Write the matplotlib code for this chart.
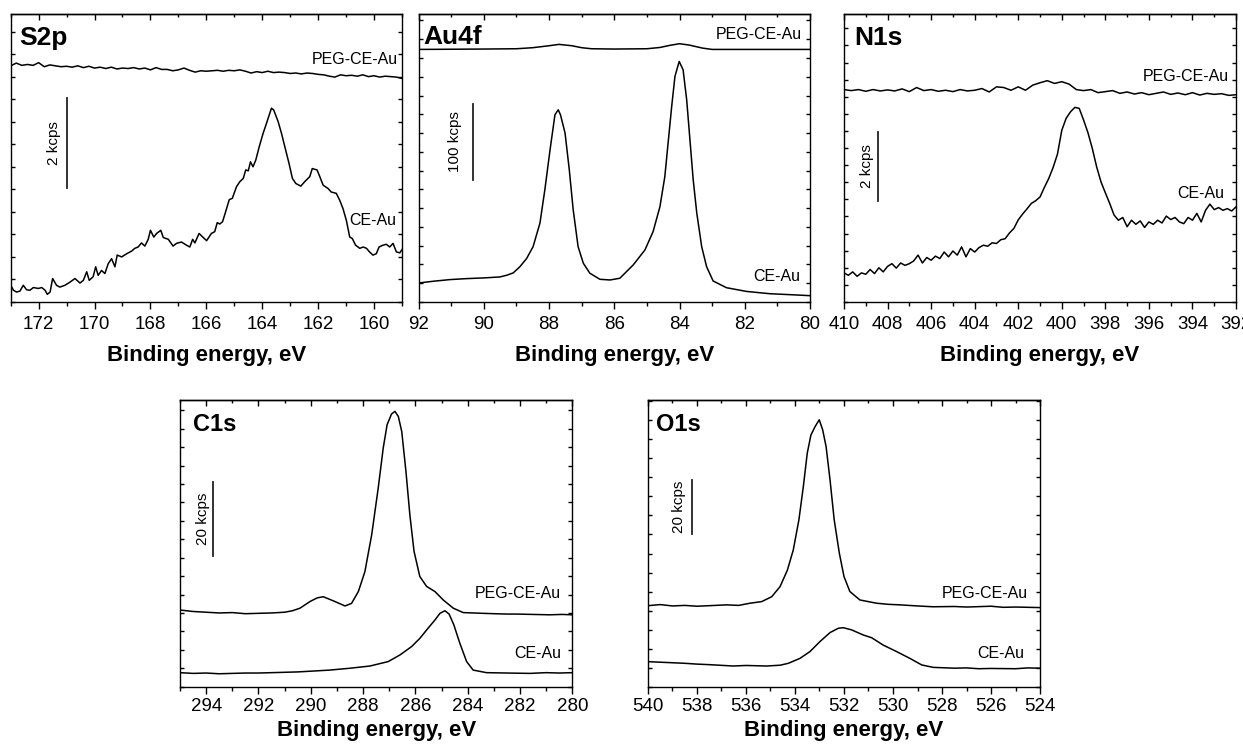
import matplotlib
matplotlib.use('Agg')
import matplotlib.pyplot as plt
from matplotlib.ticker import MultipleLocator
import numpy as np

plt.rcParams['font.family'] = ['Liberation Sans', 'DejaVu Sans']

# ---- S2p (kcps) ----
s2p_peg_ev = np.linspace(173.0, 159.0, 71)
s2p_peg_kcps = [5.24, 5.30, 5.25, 5.27, 5.25, 5.31, 5.22, 5.26, 5.24, 5.22,
                5.23, 5.21, 5.24, 5.20, 5.23, 5.19, 5.21, 5.18, 5.21, 5.17,
                5.19, 5.18, 5.20, 5.17, 5.19, 5.15, 5.20, 5.16, 5.16, 5.13,
                5.15, 5.19, 5.14, 5.10, 5.13, 5.12, 5.13, 5.14, 5.12, 5.14,
                5.13, 5.15, 5.12, 5.08, 5.11, 5.09, 5.12, 5.09, 5.10, 5.09,
                5.07, 5.08, 5.06, 5.08, 5.07, 5.05, 5.04, 5.01, 4.99, 5.04,
                5.02, 5.03, 5.01, 5.04, 5.00, 5.02, 4.99, 5.01, 5.00, 4.99,
                4.96]
s2p_ce_ev = [173.00, 172.90, 172.79, 172.67, 172.55, 172.43, 172.31, 172.19, 172.01, 171.89,
             171.77, 171.69, 171.59, 171.50, 171.36, 171.24, 171.06, 170.88, 170.70, 170.52,
             170.40, 170.28, 170.19, 170.05, 169.96, 169.87, 169.75, 169.63, 169.51, 169.39,
             169.27, 169.19, 169.03, 168.85, 168.67, 168.56, 168.44, 168.32, 168.20, 168.08,
             168.00, 167.88, 167.78, 167.63, 167.54, 167.36, 167.19, 167.07, 166.89, 166.71,
             166.59, 166.49, 166.41, 166.26, 166.11, 165.99, 165.82, 165.70, 165.61, 165.52,
             165.42, 165.33, 165.18, 165.07, 164.92, 164.80, 164.68, 164.59, 164.50, 164.42,
             164.33, 164.23, 164.11, 163.97, 163.85, 163.75, 163.67, 163.59, 163.43, 163.31,
             163.19, 163.04, 162.92, 162.80, 162.62, 162.48, 162.30, 162.21, 162.04, 161.94,
             161.82, 161.65, 161.53, 161.35, 161.23, 161.11, 160.99, 160.87, 160.78, 160.66,
             160.51, 160.39, 160.27, 160.16, 160.04, 159.92, 159.82, 159.68, 159.56, 159.44,
             159.32, 159.20, 159.08, 159.00]
s2p_ce_kcps = [0.37, 0.26, 0.22, 0.24, 0.37, 0.27, 0.26, 0.32, 0.30, 0.32,
               0.26, 0.17, 0.22, 0.52, 0.37, 0.33, 0.37, 0.44, 0.52, 0.42,
               0.48, 0.67, 0.48, 0.56, 0.78, 0.59, 0.70, 0.63, 0.85, 0.96,
               0.78, 1.04, 1.00, 1.07, 1.13, 1.19, 1.22, 1.31, 1.24, 1.39,
               1.59, 1.44, 1.52, 1.59, 1.43, 1.39, 1.24, 1.30, 1.33, 1.26,
               1.22, 1.39, 1.31, 1.52, 1.43, 1.36, 1.52, 1.56, 1.76, 1.73,
               1.78, 1.96, 2.27, 2.30, 2.56, 2.67, 2.74, 2.93, 2.91, 3.11,
               3.00, 3.15, 3.44, 3.74, 3.96, 4.15, 4.30, 4.26, 4.00, 3.74,
               3.44, 3.07, 2.74, 2.63, 2.57, 2.67, 2.78, 2.96, 2.93, 2.78,
               2.59, 2.52, 2.44, 2.41, 2.26, 2.07, 1.81, 1.44, 1.41, 1.26,
               1.19, 1.22, 1.19, 1.11, 1.04, 1.07, 1.22, 1.26, 1.28, 1.22,
               1.30, 1.11, 1.09, 1.16]

# ---- Au4f (kcps) ----
au_peg_ev = [92.0, 90.0, 89.0, 88.5, 88.0, 87.7, 87.3, 87.0, 86.7, 86.0,
             85.0, 84.6, 84.3, 84.0, 83.7, 83.3, 83.0, 82.0, 80.0]
au_peg_kcps = [336.4, 336.9, 337.3, 338.7, 341.3, 343.1, 341.3, 338.7, 337.3, 336.9,
               337.3, 339.0, 341.8, 344.0, 342.2, 338.2, 336.4, 336.4, 336.4]
au_ce_ev = [92.0, 91.55, 91.04, 90.53, 90.02, 89.51, 89.30, 89.10, 88.90, 88.69,
            88.49, 88.28, 88.13, 87.97, 87.82, 87.72, 87.65, 87.51, 87.38, 87.26,
            87.11, 86.95, 86.75, 86.44, 86.13, 85.83, 85.42, 85.06, 84.81, 84.60,
            84.45, 84.35, 84.24, 84.14, 84.01, 83.89, 83.78, 83.68, 83.58, 83.47,
            83.32, 83.17, 82.97, 82.56, 81.94, 81.23, 80.5, 80.0]
au_ce_kcps = [25.3, 27.6, 29.8, 31.1, 32.0, 33.3, 35.6, 38.7, 46.7, 57.8,
              73.7, 105, 149.3, 202.7, 249.3, 256, 249.3, 225, 176, 122.7,
              73.7, 51.6, 38.3, 30.2, 29.3, 31.6, 49.3, 69.3, 93.7, 127,
              167, 211.6, 260.4, 300.4, 320.4, 309.3, 269.3, 216, 162.7, 118.3,
              73.7, 47.1, 28, 19, 14, 11, 9.5, 8.4]

# ---- N1s (kcps) ----
n1s_peg_ev = np.linspace(410.0, 392.0, 55)
n1s_peg_kcps = [6.21, 6.18, 6.21, 6.16, 6.21, 6.17, 6.20, 6.17, 6.23, 6.15,
                6.27, 6.18, 6.21, 6.16, 6.19, 6.15, 6.21, 6.17, 6.19, 6.24,
                6.14, 6.29, 6.27, 6.19, 6.29, 6.19, 6.34, 6.41, 6.47, 6.39,
                6.44, 6.37, 6.21, 6.18, 6.21, 6.12, 6.15, 6.18, 6.10, 6.14,
                6.08, 6.12, 6.06, 6.10, 6.14, 6.07, 6.11, 6.06, 6.12, 6.05,
                6.10, 6.07, 6.09, 6.04, 6.06]
n1s_ce_ev = np.linspace(410.0, 392.0, 91)
n1s_ce_kcps = [0.85, 0.78, 0.88, 0.75, 0.85, 0.81, 0.95, 0.83, 1.00, 0.88,
               1.04, 1.12, 0.99, 1.14, 1.07, 1.12, 1.20, 1.37, 1.14, 1.30,
               1.22, 1.34, 1.27, 1.46, 1.32, 1.49, 1.37, 1.61, 1.32, 1.56,
               1.46, 1.59, 1.66, 1.63, 1.73, 1.71, 1.82, 1.85, 2.02, 2.15,
               2.40, 2.57, 2.72, 2.88, 2.96, 3.07, 3.35, 3.61, 3.93, 4.32,
               5.02, 5.37, 5.56, 5.69, 5.66, 5.32, 4.95, 4.49, 3.95, 3.51,
               3.19, 2.88, 2.54, 2.39, 2.47, 2.20, 2.39, 2.27, 2.37, 2.18,
               2.34, 2.27, 2.39, 2.31, 2.51, 2.41, 2.47, 2.34, 2.29, 2.47,
               2.39, 2.59, 2.34, 2.68, 2.86, 2.70, 2.76, 2.68, 2.73, 2.66,
               2.78]

# ---- C1s (kcps) ----
c1s_peg_ev = [295.0, 294.5, 294.0, 293.5, 293.0, 292.5, 292.0, 291.5, 291.0, 290.7,
              290.41, 290.03, 289.75, 289.52, 289.14, 288.69, 288.44, 288.18, 287.93, 287.67,
              287.42, 287.23, 287.08, 286.91, 286.78, 286.65, 286.52, 286.36, 286.21, 286.05,
              285.83, 285.57, 285.25, 284.93, 284.55, 284.17, 283.8, 283.41, 283.0, 282.5,
              282.13, 281.5, 280.86, 280.4, 280.0]
c1s_peg_kcps = [20.8, 20.4, 20.2, 20.0, 20.1, 19.8, 19.9, 20.0, 20.2, 20.6,
                21.3, 23.1, 24.1, 24.4, 23.3, 21.9, 22.6, 25.8, 31.2, 41.2,
                53.9, 64.7, 71.1, 74.0, 74.7, 73.3, 69.2, 58.4, 46.6, 36.7,
                29.9, 27.2, 25.8, 23.5, 21.3, 20.1, 20.0, 19.9, 19.8, 19.7,
                19.7, 19.6, 19.5, 19.6, 19.5]
c1s_ce_ev = [295.0, 294.5, 294.0, 293.5, 293.0, 292.5, 292.0, 291.5, 291.0, 290.5,
             290.0, 289.27, 288.50, 287.74, 287.04, 286.59, 286.14, 285.83, 285.51, 285.25,
             285.06, 284.87, 284.71, 284.53, 284.30, 284.04, 283.79, 283.28, 282.5, 281.62,
             281.0, 280.5, 280.0]
c1s_ce_kcps = [3.8, 3.6, 3.7, 3.5, 3.6, 3.7, 3.7, 3.8, 3.9, 4.0,
               4.2, 4.5, 5.0, 5.6, 6.8, 8.6, 10.9, 13.1, 15.9, 18.1,
               19.9, 20.6, 19.7, 16.8, 11.8, 6.8, 4.5, 3.8, 3.7, 3.6,
               3.8, 3.7, 3.8]

# ---- O1s (kcps) ----
o1s_peg_ev = [540.0, 539.5, 539.0, 538.5, 538.0, 537.5, 536.79, 536.3, 535.84, 535.36,
              534.95, 534.61, 534.31, 534.07, 533.84, 533.66, 533.50, 533.35, 533.18, 533.01,
              532.87, 532.73, 532.57, 532.40, 532.19, 532.0, 531.76, 531.35, 530.67, 530.2,
              529.71, 529.0, 528.36, 527.5, 527.0, 526.0, 525.5, 525.0, 524.0]
o1s_peg_kcps = [29.8, 30.2, 29.7, 29.9, 29.6, 29.8, 30.1, 29.9, 30.7, 31.3,
                33.1, 36.8, 42.9, 50.3, 61.4, 73.6, 85.9, 92.6, 95.7, 98.2,
                94.5, 88.3, 76.1, 61.4, 49.1, 40.5, 35.0, 31.9, 30.7, 30.3,
                30.1, 29.7, 29.4, 29.5, 29.3, 29.6, 29.2, 29.3, 29.1]
o1s_ce_ev = [540.0, 539.5, 539.0, 538.5, 538.0, 537.5, 536.52, 536.0, 535.16, 534.6,
             534.27, 533.80, 533.39, 532.98, 532.57, 532.23, 532.03, 531.69, 531.21, 530.87,
             530.40, 529.85, 529.31, 528.83, 528.36, 527.5, 527.0, 526.5, 526.0, 525.0,
             524.5, 524.0]
o1s_ce_kcps = [9.2, 9.0, 8.8, 8.6, 8.3, 8.1, 7.6, 7.8, 7.6, 7.9,
               8.6, 10.4, 12.9, 16.6, 19.9, 21.5, 21.7, 20.9, 19.0, 18.0,
               15.3, 12.9, 10.4, 8.0, 7.1, 6.8, 6.9, 6.6, 6.7, 6.6,
               6.9, 6.8]

panel_names = ['S2p', 'Au4f', 'N1s', 'C1s', 'O1s']
scale_labels = ['2 kcps', '100 kcps', '2 kcps', '20 kcps', '20 kcps']
scale_sizes = [2, 100, 2, 20, 20]
x_label = 'Binding energy, eV'


def style_axes(ax, xlim, ylim, ystep, top_row):
    ax.set_xlim(*xlim)
    ax.set_ylim(*ylim)
    for spine in ax.spines.values():
        spine.set_linewidth(1.0)
    ax.xaxis.set_major_locator(MultipleLocator(2))
    ax.xaxis.set_minor_locator(MultipleLocator(1))
    ax.yaxis.set_major_locator(MultipleLocator(ystep))
    ax.tick_params(axis='x', which='major', direction='out', length=5, width=1.0,
                   labelsize=13.5, pad=5 if top_row else 3)
    ax.tick_params(axis='x', which='minor', direction='out', length=3, width=1.0)
    ax.tick_params(axis='y', which='major', direction='in', length=3, width=1.0,
                   left=True, right=True, labelleft=False)
    # inward ticks along the top edge
    top = ax.secondary_xaxis('top')
    top.xaxis.set_major_locator(MultipleLocator(2))
    top.xaxis.set_minor_locator(MultipleLocator(1))
    top.tick_params(axis='x', which='major', direction='in', length=4, width=1.0, labeltop=False)
    top.tick_params(axis='x', which='minor', direction='in', length=2.5, width=1.0)
    top.spines['top'].set_linewidth(1.0)
    ax.set_xlabel(x_label, fontsize=16, fontweight='bold', labelpad=9 if top_row else 4)


def draw_panel(ax, idx, peg, ce, bar_xy, bar_gap, title_pos, peg_pos, ce_pos, title_size):
    ax.plot(peg[0], peg[1], color='black', lw=1.1)
    ax.plot(ce[0], ce[1], color='black', lw=1.1)
    bx, by = bar_xy
    ax.plot([bx, bx], [by, by + scale_sizes[idx]], color='#222222', lw=1.3)
    ax.annotate(scale_labels[idx], xy=(bx, by + scale_sizes[idx] / 2), xytext=(-bar_gap, 0),
                textcoords='offset points', rotation=90, ha='right', va='center', fontsize=11)
    ax.text(title_pos[0], title_pos[1], panel_names[idx], transform=ax.transAxes,
            fontsize=title_size, fontweight='bold', ha='left', va='baseline')
    ax.text(peg_pos[0], peg_pos[1], 'PEG-CE-Au', transform=ax.transAxes,
            fontsize=11.5, ha='right', va='baseline')
    ax.text(ce_pos[0], ce_pos[1], 'CE-Au', transform=ax.transAxes,
            fontsize=11.5, ha='right', va='baseline')


fig = plt.figure(figsize=(12.43, 7.48), dpi=100)

ax_s = fig.add_axes([0.0086, 0.5963, 0.3148, 0.385])
style_axes(ax_s, (173, 159), (0, 6.39), 0.5, True)
draw_panel(ax_s, 0, (s2p_peg_ev, s2p_peg_kcps), (s2p_ce_ev, s2p_ce_kcps), (171.0, 2.52), 4,
           (0.022, 0.892), (0.99, 0.826), (0.985, 0.266), 19)

ax_au = fig.add_axes([0.3368, 0.5963, 0.3148, 0.385])
style_axes(ax_au, (92, 80), (0, 383.6), 25, True)
draw_panel(ax_au, 1, (au_peg_ev, au_peg_kcps), (au_ce_ev, au_ce_kcps), (90.32, 163.1), 8,
           (0.013, 0.896), (0.979, 0.912), (0.974, 0.072), 19)

ax_n = fig.add_axes([0.679, 0.5963, 0.3154, 0.385])
style_axes(ax_n, (410, 392), (0, 8.42), 0.5, True)
draw_panel(ax_n, 2, (n1s_peg_ev, n1s_peg_kcps), (n1s_ce_ev, n1s_ce_kcps), (408.42, 2.96), 3,
           (0.025, 0.892), (0.982, 0.767), (0.969, 0.3615), 19)

ax_c = fig.add_axes([0.1448, 0.082, 0.3156, 0.3833])
style_axes(ax_c, (295, 280), (0, 77.8), 5, False)
draw_panel(ax_c, 3, (c1s_peg_ev, c1s_peg_kcps), (c1s_ce_ev, c1s_ce_kcps), (293.75, 35.5), 2,
           (0.034, 0.892), (0.971, 0.308), (0.973, 0.099), 17)

ax_o = fig.add_axes([0.5213, 0.082, 0.3154, 0.3833])
style_axes(ax_o, (540, 524), (0, 105.5), 7, False)
draw_panel(ax_o, 4, (o1s_peg_ev, o1s_peg_kcps), (o1s_ce_ev, o1s_ce_kcps), (538.22, 56.1), 4,
           (0.020, 0.892), (0.968, 0.308), (0.96, 0.099), 17)

fig.savefig('out.png', dpi=100)
